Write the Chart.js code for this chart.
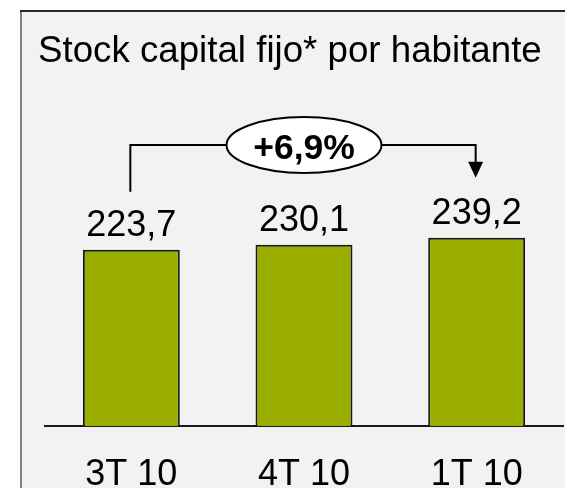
<!DOCTYPE html>
<html>
<head>
<meta charset="utf-8">
<script src="https://cdn.jsdelivr.net/npm/chart.js@4/dist/chart.umd.min.js"></script>
<style>
  html, body { margin: 0; padding: 0; background: #ffffff; }
  #wrap { position: relative; width: 565px; height: 488px; overflow: hidden; }
  canvas { display: block; }
</style>
</head>
<body>
<div id="wrap"><canvas id="c" width="565" height="488"></canvas></div>
<script>
const titleText = "Stock capital fijo* por habitante";
const categories = ["3T 10", "4T 10", "1T 10"];
const values = [223.7, 230.1, 239.2];
const changeLabel = "+6,9%";

const FONT = '"Liberation Sans", Arial, Helvetica, sans-serif';

const decor = {
  id: 'decor',
  beforeDraw(chart) {
    const ctx = chart.ctx;
    ctx.save();
    // panel background and frame
    ctx.fillStyle = '#f2f2f2';
    ctx.fillRect(22, 12, 600, 600);
    ctx.fillStyle = '#7f7f7f';
    ctx.fillRect(20, 10, 2, 600);
    ctx.fillStyle = '#262626';
    ctx.fillRect(20, 10, 600, 2);
    // title
    ctx.fillStyle = '#000';
    ctx.font = '36.7px ' + FONT;
    ctx.textAlign = 'left';
    ctx.textBaseline = 'alphabetic';
    ctx.fillText(titleText, 38, 62);
    ctx.restore();
  },
  afterDatasetsDraw(chart) {
    const ctx = chart.ctx;
    const meta = chart.getDatasetMeta(0);
    const xs = chart.scales.x;
    ctx.save();
    // value labels
    ctx.fillStyle = '#000';
    ctx.font = '36px ' + FONT;
    ctx.textAlign = 'center';
    ctx.textBaseline = 'alphabetic';
    meta.data.forEach((bar, i) => {
      ctx.fillText(values[i].toFixed(1).replace('.', ','), bar.x, bar.y - 14);
    });
    // change bracket
    const x0 = xs.getPixelForValue(0) - 1;
    const x1 = xs.getPixelForValue(categories.length - 1) - 1;
    const yLine = 145;
    const yLeftEnd = meta.data[0].y - 58;
    const yTip = meta.data[categories.length - 1].y - 60;
    ctx.strokeStyle = '#000';
    ctx.lineWidth = 2;
    ctx.lineJoin = 'miter';
    ctx.beginPath();
    ctx.moveTo(x0, yLeftEnd);
    ctx.lineTo(x0, yLine);
    ctx.lineTo(x1, yLine);
    ctx.lineTo(x1, yTip - 14);
    ctx.stroke();
    ctx.fillStyle = '#000';
    ctx.beginPath();
    ctx.moveTo(x1 - 7.5, yTip - 16);
    ctx.lineTo(x1 + 7.5, yTip - 16);
    ctx.lineTo(x1, yTip);
    ctx.closePath();
    ctx.fill();
    // ellipse
    const cx = (x0 + x1) / 2 + 1;
    ctx.beginPath();
    ctx.ellipse(cx, yLine, 77.5, 28, 0, 0, Math.PI * 2);
    ctx.fillStyle = '#ffffff';
    ctx.fill();
    ctx.stroke();
    ctx.fillStyle = '#000';
    ctx.font = 'bold 35.5px ' + FONT;
    ctx.textAlign = 'center';
    ctx.textBaseline = 'alphabetic';
    ctx.fillText(changeLabel, cx, 158.5);
    ctx.restore();
  }
};

new Chart(document.getElementById('c'), {
  type: 'bar',
  data: {
    labels: categories,
    datasets: [{
      data: values,
      backgroundColor: '#9aae00',
      borderColor: '#1a1a1a',
      borderWidth: 2,
      borderSkipped: 'bottom',
      categoryPercentage: 1.0,
      barPercentage: 0.5615
    }]
  },
  options: {
    responsive: false,
    animation: false,
    devicePixelRatio: 1,
    layout: { padding: { left: 45, right: 2, top: 111, bottom: 0 } },
    plugins: { legend: { display: false }, tooltip: { enabled: false }, title: { display: false } },
    scales: {
      x: {
        grid: { display: false, drawTicks: false },
        border: { display: true, color: '#1a1a1a', width: 2 },
        ticks: { color: '#000', font: { family: FONT, size: 36 }, padding: 27, maxRotation: 0 },
        afterFit(scale) { scale.height = 62; }
      },
      y: {
        display: false,
        min: 0,
        max: 400
      }
    }
  },
  plugins: [decor]
});
</script>
</body>
</html>
